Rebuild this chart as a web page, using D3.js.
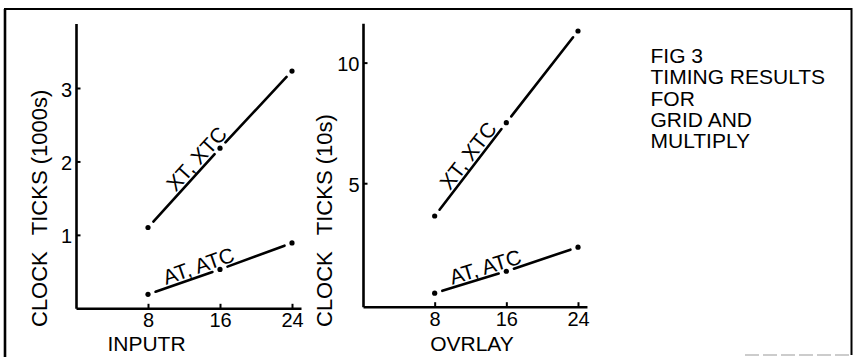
<!DOCTYPE html>
<html>
<head>
  <meta charset="utf-8">
  <title>Fig 3 timing results</title>
  <style>
    body { margin: 0; background: #fff; }
    svg { display: block; font-family: "Liberation Sans", Arial, Helvetica, sans-serif; }
    .axis path, .axis line { stroke: #000; }
    .axis text { font-size: 20px; fill: #000; }
  </style>
  <script src="https://d3js.org/d3.v7.min.js"></script>
</head>
<body>
  <div id="chart"></div>
  <script>
    // data
    var sizes = [8, 16, 24];
    var inputrXT = [1.10, 2.18, 3.23];   // clock ticks, 1000s
    var inputrAT = [0.19, 0.53, 0.89];
    var ovrlayXT = [3.64, 7.51, 11.31];  // clock ticks, 10s
    var ovrlayAT = [0.44, 1.35, 2.35];
    var xTicks = [8, 16, 24];
    var leftYTicks = [1, 2, 3];
    var rightYTicks = [5, 10];
    var seriesLabels = ["XT, XTC", "AT, ATC"];
    var titleLines = ["FIG 3", "TIMING RESULTS", "FOR", "GRID AND", "MULTIPLY"];

    var width = 855, height = 357;

    var svg = d3.select("#chart").append("svg")
        .attr("width", width)
        .attr("height", height);

    // frame round the figure
    var frame = svg.append("g").attr("stroke", "#000").attr("fill", "none");
    frame.append("line").attr("x1", 5).attr("y1", 9).attr("x2", 5).attr("y2", 357).attr("stroke-width", 2.6);
    frame.append("line").attr("x1", 4).attr("y1", 9).attr("x2", 852).attr("y2", 9).attr("stroke-width", 2.2);
    frame.append("line").attr("x1", 851.5).attr("y1", 8).attr("x2", 851.5).attr("y2", 355).attr("stroke-width", 2);
    frame.append("line").attr("x1", 745).attr("y1", 355).attr("x2", 852).attr("y2", 355)
      .attr("stroke", "#999").attr("stroke-width", 1.2).attr("stroke-dasharray", "14,4");

    var panels = [
      {
        x: d3.scaleLinear().domain([0, 24]).range([76, 292]),
        y: d3.scaleLinear().domain([0, 3]).range([308.3, 88]),
        yTop: 23.5, xEnd: 25, yTicks: leftYTicks, tickPad: 4,
        xt: inputrXT, at: inputrAT,
        xLabel: "INPUTR", xLabelX: 146.5,
        yLabel: ["CLOCK", "TICKS (1000s)"], yLabelX: 46.5,
        labelT: [0.78, 0.75]
      },
      {
        x: d3.scaleLinear().domain([0, 24]).range([363, 578]),
        y: d3.scaleLinear().domain([-0.12, 11.63]).range([306.7, 23.3]),
        yTop: 23.3, xEnd: 25, yTicks: rightYTicks, tickPad: 3.5,
        xt: ovrlayXT, at: ovrlayAT,
        xLabel: "OVRLAY", xLabelX: 472,
        yLabel: ["CLOCK", "TICKS (10s)"], yLabelX: 331.5,
        labelT: [0.58, 0.75]
      }
    ];

    panels.forEach(function(p) {
      var g = svg.append("g");
      var x = p.x.copy().domain([0, p.xEnd]).range([p.x(0), p.x(p.xEnd)]);
      var y0 = p.y.domain()[0];
      var y = p.y.copy().domain([y0, p.y.invert(p.yTop)]).range([p.y(y0), p.yTop]);

      // x axis, ticks pointing up
      var gx = g.append("g")
        .attr("class", "axis")
        .attr("transform", "translate(0," + y(y0) + ")")
        .call(d3.axisBottom(x).tickValues(xTicks).tickFormat(d3.format("d"))
          .tickSizeInner(-4.5).tickSizeOuter(0).tickPadding(5));
      gx.select(".domain").attr("stroke-width", 2.6);
      gx.selectAll(".tick line").attr("stroke-width", 2);

      // y axis, ticks pointing in
      var gy = g.append("g")
        .attr("class", "axis")
        .attr("transform", "translate(" + x(0) + ",0)")
        .call(d3.axisLeft(y).tickValues(p.yTicks).tickFormat(d3.format("d"))
          .tickSizeInner(-4.5).tickSizeOuter(0).tickPadding(p.tickPad));
      gy.select(".domain").attr("stroke-width", 2.6);
      gy.selectAll(".tick line").attr("stroke-width", 2);
      gy.selectAll(".tick text").attr("dy", "0.4em");

      // axis titles
      g.append("text")
        .attr("x", p.xLabelX)
        .attr("y", 351)
        .attr("text-anchor", "middle")
        .attr("font-size", 21)
        .text(p.xLabel);

      var yt = g.append("text")
        .attr("transform", "translate(" + p.yLabelX + ",327) rotate(-90)")
        .attr("font-size", 22);
      yt.append("tspan").text(p.yLabel[0]);
      yt.append("tspan").attr("dx", 16).text(p.yLabel[1]);

      // series: dots and broken segments between them
      [p.xt, p.at].forEach(function(vals, si) {
        var pts = sizes.map(function(s, i) { return [x(s), y(vals[i])]; });

        g.selectAll(".dot" + si)
          .data(pts)
          .enter().append("circle")
          .attr("cx", function(d) { return d[0]; })
          .attr("cy", function(d) { return d[1]; })
          .attr("r", 2.6)
          .attr("fill", "#000");

        var line = d3.line();
        for (var i = 0; i < pts.length - 1; i++) {
          var a = pts[i], b = pts[i + 1];
          var dx = b[0] - a[0], dy = b[1] - a[1];
          var len = Math.sqrt(dx * dx + dy * dy);
          var gap = 8;
          var s = [a[0] + dx * gap / len, a[1] + dy * gap / len];
          var e = [b[0] - dx * gap / len, b[1] - dy * gap / len];
          g.append("path")
            .attr("d", line([s, e]))
            .attr("fill", "none")
            .attr("stroke", "#000")
            .attr("stroke-width", 2.6)
            .attr("stroke-linecap", "round");
        }

        // label along the first segment
        var a0 = pts[0], b0 = pts[1];
        var t = p.labelT[si];
        var ang = Math.atan2(b0[1] - a0[1], b0[0] - a0[0]) * 180 / Math.PI;
        var fx = a0[0] + (b0[0] - a0[0]) * t;
        var fy = a0[1] + (b0[1] - a0[1]) * t;
        g.append("text")
          .attr("transform", "translate(" + fx + "," + fy + ") rotate(" + ang + ")")
          .attr("text-anchor", "middle")
          .attr("dy", -3)
          .attr("font-size", 21)
          .text(seriesLabels[si]);
      });
    });

    // figure caption on the right
    svg.append("g")
      .selectAll("text")
      .data(titleLines)
      .enter().append("text")
      .attr("x", 650.5)
      .attr("y", function(d, i) { return 63 + i * 21.3; })
      .attr("font-size", 21)
      .text(function(d) { return d; });
  </script>
</body>
</html>
